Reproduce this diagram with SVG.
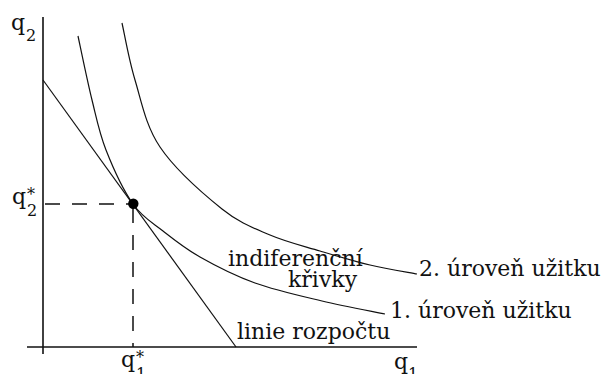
<svg xmlns="http://www.w3.org/2000/svg" width="608" height="374" viewBox="0 0 608 374">
<style>
  .ax{stroke:#111;stroke-width:1.6;fill:none}
  .ln{stroke:#111;stroke-width:1.2;fill:none}
  .dash{stroke:#111;stroke-width:1.5;fill:none;stroke-dasharray:15 12}
  text{font-family:"DejaVu Serif","Liberation Serif",serif;fill:#111}
  .lbl{font-size:22px}
  .sub{font-size:16px}
</style>
<rect width="608" height="374" fill="#fff"/>
<g id="axes">
  <line class="ax" x1="43" y1="17" x2="43" y2="354"/>
  <line class="ax" x1="27" y1="347" x2="417" y2="347"/>
  <text class="lbl" x="11" y="30">q</text><text class="sub" x="26" y="41">2</text>
  <text class="lbl" x="394" y="369">q</text><text class="sub" x="408" y="380">1</text>
</g>
<g id="connectors">
  <line id="budget" class="ln" x1="43" y1="80" x2="236" y2="347"/>
  <path id="curve1" class="ln" d="M78,36 C80.3,46.7 87.3,81 92,100 C96.7,119 99.2,132.7 106,150 C112.8,167.3 123.5,190.5 133,204 C142.5,217.5 151.8,222.2 163,231 C174.2,239.8 184.7,248.3 200,257 C215.3,265.7 234.7,275.7 255,283 C275.3,290.3 300.3,295.8 322,301 C343.7,306.2 374.5,311.8 385,314"/>
  <path id="curve2" class="ln" d="M122,23 C124.2,32.5 128.7,59.3 135,80 C141.3,100.7 145.5,125.5 160,147 C174.5,168.5 203.7,194.3 222,209 C240.3,223.7 253.7,228 270,235 C286.3,242 303.3,246 320,251 C336.7,256 353.8,261.2 370,265 C386.2,268.8 409.2,272.5 417,274"/>
  <line class="dash" x1="45" y1="204" x2="133" y2="204"/>
  <line class="dash" x1="133" y1="208" x2="133" y2="347"/>
</g>
<g id="optimum">
  <circle cx="133.3" cy="203.8" r="5.2" fill="#000"/>
  <text class="lbl" x="12" y="204">q</text><text class="sub" x="27" y="200">*</text><text class="sub" x="27" y="216">2</text>
  <text class="lbl" x="121" y="367">q</text><text class="sub" x="136" y="363">*</text><text class="sub" x="136" y="380">1</text>
</g>
<g id="labels">
  <text class="lbl" x="228" y="266">indiferenční</text>
  <text class="lbl" x="288" y="287">křivky</text>
  <text class="lbl" x="419" y="276">2. úroveň užitku</text>
  <text class="lbl" x="390" y="318">1. úroveň užitku</text>
  <text class="lbl" x="237" y="339">linie rozpočtu</text>
</g>
</svg>
